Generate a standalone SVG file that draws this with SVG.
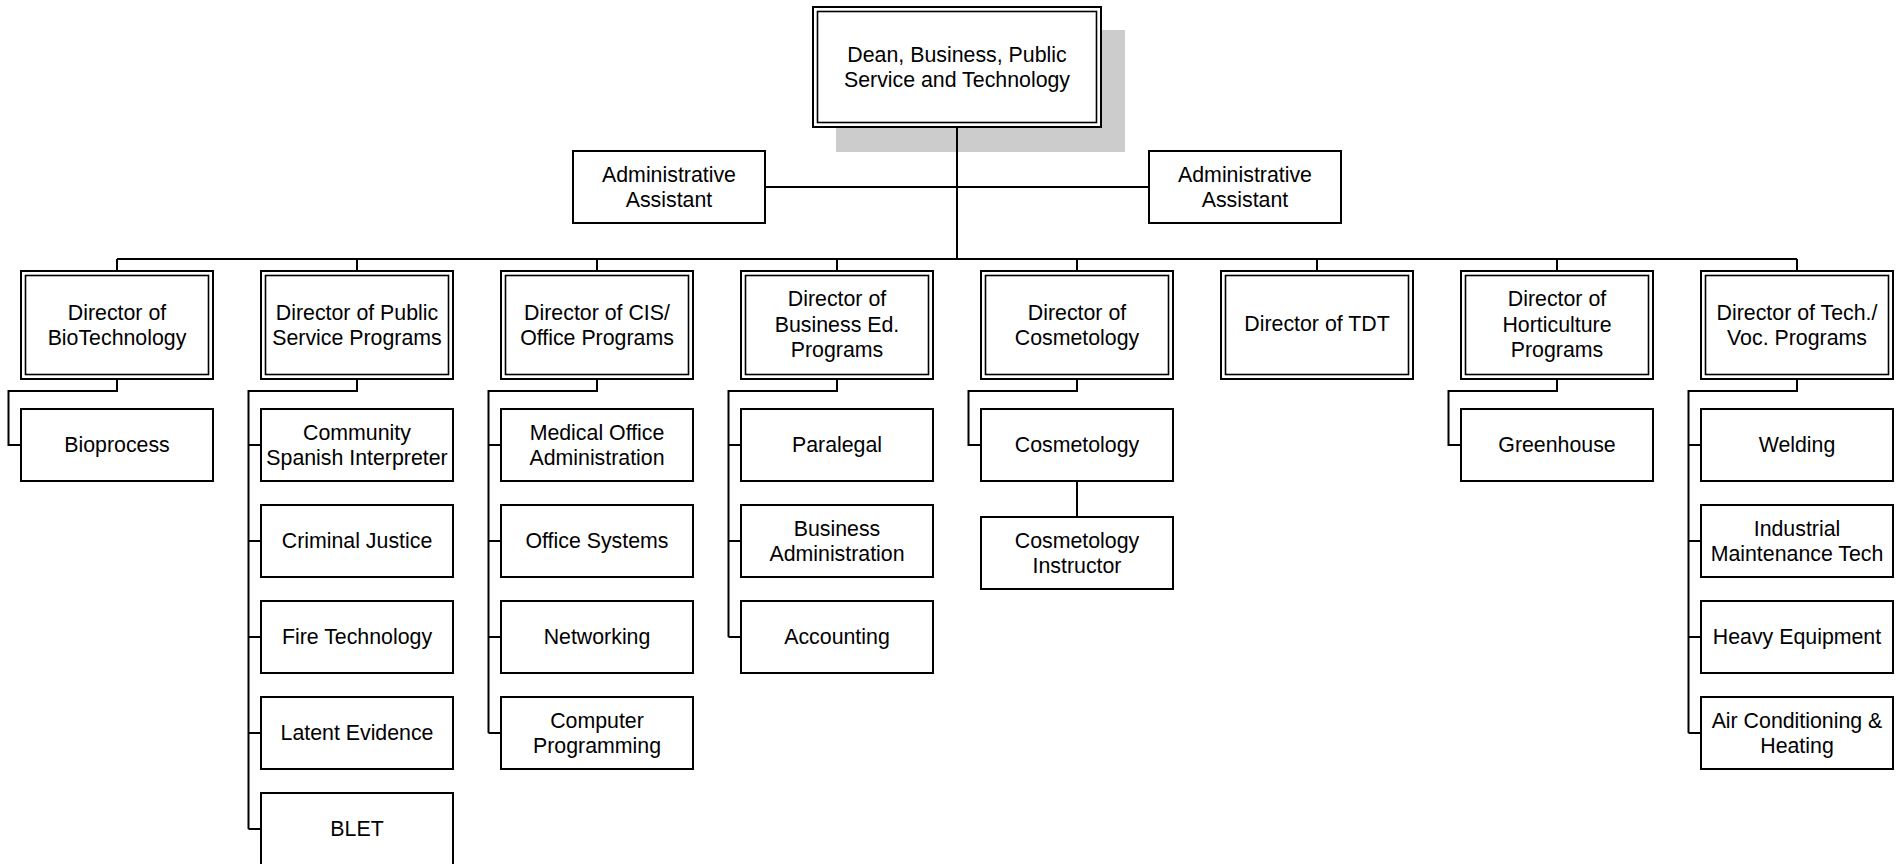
<svg xmlns="http://www.w3.org/2000/svg" width="1904" height="864" viewBox="0 0 1904 864">
<style>
.bg{fill:#ffffff}
.box{fill:#ffffff;stroke:#000000;stroke-width:2}
.inner{fill:none;stroke:#000000;stroke-width:1.6}
.shadow{fill:#cccccc;stroke:none}
.con{fill:none;stroke:#000000;stroke-width:2}
text{font-family:"Liberation Sans",Arial,sans-serif;font-size:21.33px;fill:#000000;text-anchor:middle}
</style>
<rect class="bg" x="0" y="0" width="1904" height="864"/>
<rect class="shadow" x="836" y="30" width="289" height="122"/>
<g id="connectors">
<path class="con" d="M957 127V259"/>
<path class="con" d="M765 187H1149"/>
<path class="con" d="M117 259H1797"/>
<path class="con" d="M117 259V271M357 259V271M597 259V271M837 259V271M1077 259V271M1317 259V271M1557 259V271M1797 259V271"/>
<path class="con" d="M117 379V391H8.5V445H21"/>
<path class="con" d="M357 379V391H248.5V829M248.5 445H261M248.5 541H261M248.5 637H261M248.5 733H261M248.5 829H261"/>
<path class="con" d="M597 379V391H488.5V733M488.5 445H501M488.5 541H501M488.5 637H501M488.5 733H501"/>
<path class="con" d="M837 379V391H728.5V637M728.5 445H741M728.5 541H741M728.5 637H741"/>
<path class="con" d="M1077 379V391H968.5V445H981M1077 481V517"/>
<path class="con" d="M1557 379V391H1448.5V445H1461"/>
<path class="con" d="M1797 379V391H1688.5V733M1688.5 445H1701M1688.5 541H1701M1688.5 637H1701M1688.5 733H1701"/>
</g>
<g id="dean">
<rect class="box" x="813" y="7" width="288" height="120"/>
<rect class="inner" x="817.5" y="11.5" width="279" height="111"/>
<text x="957" y="61.5"><tspan x="957">Dean, Business, Public</tspan><tspan x="957" y="86.5">Service and Technology</tspan></text>
</g>
<g id="admin-left">
<rect class="box" x="573" y="151" width="192" height="72"/>
<text x="669" y="181.5"><tspan x="669">Administrative</tspan><tspan x="669" y="206.5">Assistant</tspan></text>
</g>
<g id="admin-right">
<rect class="box" x="1149" y="151" width="192" height="72"/>
<text x="1245" y="181.5"><tspan x="1245">Administrative</tspan><tspan x="1245" y="206.5">Assistant</tspan></text>
</g>
<g id="dir-biotech">
<rect class="box" x="21" y="271" width="192" height="108"/>
<rect class="inner" x="25.5" y="275.5" width="183" height="99"/>
<text x="117" y="319.5"><tspan x="117">Director of</tspan><tspan x="117" y="345">BioTechnology</tspan></text>
</g>
<g id="dir-public">
<rect class="box" x="261" y="271" width="192" height="108"/>
<rect class="inner" x="265.5" y="275.5" width="183" height="99"/>
<text x="357" y="319.5"><tspan x="357">Director of Public</tspan><tspan x="357" y="345">Service Programs</tspan></text>
</g>
<g id="dir-cis">
<rect class="box" x="501" y="271" width="192" height="108"/>
<rect class="inner" x="505.5" y="275.5" width="183" height="99"/>
<text x="597" y="319.5"><tspan x="597">Director of CIS/</tspan><tspan x="597" y="345">Office Programs</tspan></text>
</g>
<g id="dir-busined">
<rect class="box" x="741" y="271" width="192" height="108"/>
<rect class="inner" x="745.5" y="275.5" width="183" height="99"/>
<text x="837" y="306"><tspan x="837">Director of</tspan><tspan x="837" y="331.5">Business Ed.</tspan><tspan x="837" y="357">Programs</tspan></text>
</g>
<g id="dir-cosmetology">
<rect class="box" x="981" y="271" width="192" height="108"/>
<rect class="inner" x="985.5" y="275.5" width="183" height="99"/>
<text x="1077" y="319.5"><tspan x="1077">Director of</tspan><tspan x="1077" y="345">Cosmetology</tspan></text>
</g>
<g id="dir-tdt">
<rect class="box" x="1221" y="271" width="192" height="108"/>
<rect class="inner" x="1225.5" y="275.5" width="183" height="99"/>
<text x="1317" y="331">Director of TDT</text>
</g>
<g id="dir-horticulture">
<rect class="box" x="1461" y="271" width="192" height="108"/>
<rect class="inner" x="1465.5" y="275.5" width="183" height="99"/>
<text x="1557" y="306"><tspan x="1557">Director of</tspan><tspan x="1557" y="331.5">Horticulture</tspan><tspan x="1557" y="357">Programs</tspan></text>
</g>
<g id="dir-techvoc">
<rect class="box" x="1701" y="271" width="192" height="108"/>
<rect class="inner" x="1705.5" y="275.5" width="183" height="99"/>
<text x="1797" y="319.5"><tspan x="1797">Director of Tech./</tspan><tspan x="1797" y="345">Voc. Programs</tspan></text>
</g>
<g id="bioprocess"><rect class="box" x="21" y="409" width="192" height="72"/><text x="117" y="451.5">Bioprocess</text></g>
<g id="community-spanish"><rect class="box" x="261" y="409" width="192" height="72"/><text x="357" y="440"><tspan x="357">Community</tspan><tspan x="357" y="465">Spanish Interpreter</tspan></text></g>
<g id="criminal-justice"><rect class="box" x="261" y="505" width="192" height="72"/><text x="357" y="547.5">Criminal Justice</text></g>
<g id="fire-technology"><rect class="box" x="261" y="601" width="192" height="72"/><text x="357" y="643.5">Fire Technology</text></g>
<g id="latent-evidence"><rect class="box" x="261" y="697" width="192" height="72"/><text x="357" y="739.5">Latent Evidence</text></g>
<g id="blet"><rect class="box" x="261" y="793" width="192" height="72"/><text x="357" y="835.5">BLET</text></g>
<g id="medical-office"><rect class="box" x="501" y="409" width="192" height="72"/><text x="597" y="440"><tspan x="597">Medical Office</tspan><tspan x="597" y="465">Administration</tspan></text></g>
<g id="office-systems"><rect class="box" x="501" y="505" width="192" height="72"/><text x="597" y="547.5">Office Systems</text></g>
<g id="networking"><rect class="box" x="501" y="601" width="192" height="72"/><text x="597" y="643.5">Networking</text></g>
<g id="computer-programming"><rect class="box" x="501" y="697" width="192" height="72"/><text x="597" y="728"><tspan x="597">Computer</tspan><tspan x="597" y="753">Programming</tspan></text></g>
<g id="paralegal"><rect class="box" x="741" y="409" width="192" height="72"/><text x="837" y="451.5">Paralegal</text></g>
<g id="business-admin"><rect class="box" x="741" y="505" width="192" height="72"/><text x="837" y="536"><tspan x="837">Business</tspan><tspan x="837" y="561">Administration</tspan></text></g>
<g id="accounting"><rect class="box" x="741" y="601" width="192" height="72"/><text x="837" y="643.5">Accounting</text></g>
<g id="cosmetology"><rect class="box" x="981" y="409" width="192" height="72"/><text x="1077" y="451.5">Cosmetology</text></g>
<g id="cosmetology-instructor"><rect class="box" x="981" y="517" width="192" height="72"/><text x="1077" y="548"><tspan x="1077">Cosmetology</tspan><tspan x="1077" y="573">Instructor</tspan></text></g>
<g id="greenhouse"><rect class="box" x="1461" y="409" width="192" height="72"/><text x="1557" y="451.5">Greenhouse</text></g>
<g id="welding"><rect class="box" x="1701" y="409" width="192" height="72"/><text x="1797" y="451.5">Welding</text></g>
<g id="industrial-maintenance"><rect class="box" x="1701" y="505" width="192" height="72"/><text x="1797" y="536"><tspan x="1797">Industrial</tspan><tspan x="1797" y="561">Maintenance Tech</tspan></text></g>
<g id="heavy-equipment"><rect class="box" x="1701" y="601" width="192" height="72"/><text x="1797" y="643.5">Heavy Equipment</text></g>
<g id="air-conditioning"><rect class="box" x="1701" y="697" width="192" height="72"/><text x="1797" y="728"><tspan x="1797">Air Conditioning &amp;</tspan><tspan x="1797" y="753">Heating</tspan></text></g>
</svg>
